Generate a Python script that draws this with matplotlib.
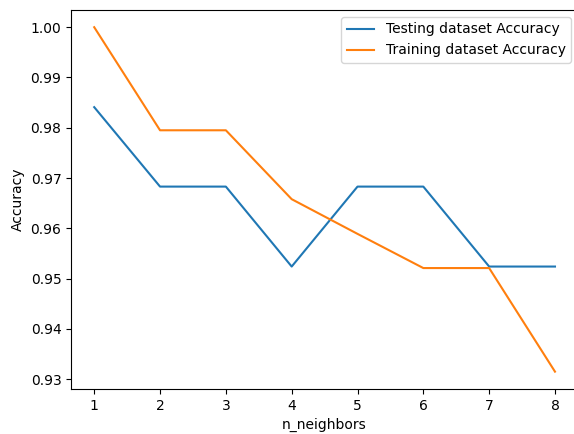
import matplotlib
matplotlib.use("Agg")
import matplotlib.pyplot as plt

# k values and accuracies
neighbors = [1, 2, 3, 4, 5, 6, 7, 8]
test_accuracy = [0.9841, 0.9683, 0.9683, 0.9524, 0.9683, 0.9683, 0.9524, 0.9524]
train_accuracy = [1.0, 0.9795, 0.9795, 0.9658, 0.9589, 0.9521, 0.9521, 0.9315]

fig = plt.figure(figsize=(5.74, 4.34), dpi=100)
ax = fig.add_subplot(111)
ax.plot(neighbors, test_accuracy, label="Testing dataset Accuracy")
ax.plot(neighbors, train_accuracy, label="Training dataset Accuracy")
ax.legend()
ax.set_xlabel("n_neighbors")
ax.set_ylabel("Accuracy")

# the original image is cropped just inside the right spine
fig.subplots_adjust(left=0.124, right=1.007, top=0.977, bottom=0.104)
fig.savefig("out.png", dpi=100)
